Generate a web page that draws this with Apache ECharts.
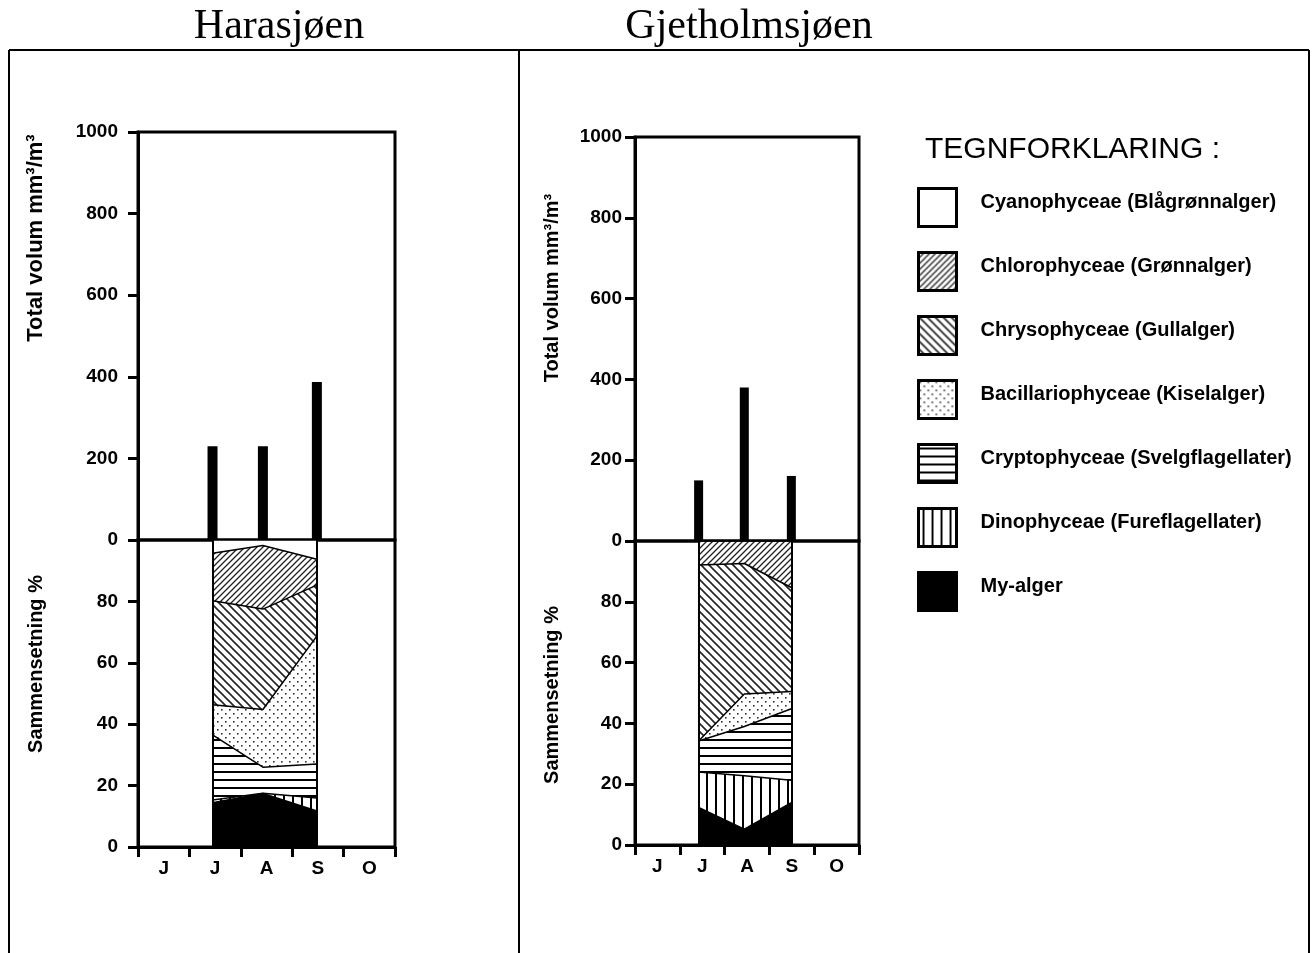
<!DOCTYPE html>
<html>
<head>
<meta charset="utf-8">
<script src="https://cdn.jsdelivr.net/npm/echarts@6/dist/echarts.min.js"></script>
<style>
  html, body { margin: 0; padding: 0; background: #fff; }
  #chart { width: 1313px; height: 953px; }
</style>
</head>
<body>
<div id="chart"></div>
<script>
// months on the x axis (June .. October)
const months = ['J', 'J', 'A', 'S', 'O']

// sampling positions, in months counted from 1 June
const sampleHara = [1.45, 2.43, 3.48]
const sampleGjet = [1.42, 2.44, 3.49]

// total volume mm3/m3
const volumHara = [230, 230, 387]
const volumGjet = [150, 380, 161]

// legend names, top to bottom as in the legend
const groupNames = [
  'Cyanophyceae (Blågrønnalger)',
  'Chlorophyceae (Grønnalger)',
  'Chrysophyceae (Gullalger)',
  'Bacillariophyceae (Kiselalger)',
  'Cryptophyceae (Svelgflagellater)',
  'Dinophyceae (Fureflagellater)',
  'My-alger'
]

// composition in %, Harasjøen
const myHara = [14.4, 17.4, 11.7]
const dinoHara = [0.9, 0.1, 4.3]
const cryptoHara = [21.2, 8.5, 11.0]
const bacilHara = [9.8, 18.8, 41.7]
const chrysoHara = [33.9, 32.7, 16.6]
const chloroHara = [15.5, 20.7, 8.4]
const cyanoHara = [4.3, 1.8, 6.3]

// composition in %, Gjetholmsjøen
const myGjet = [12.4, 5.2, 13.9]
const dinoGjet = [11.6, 17.6, 7.4]
const cryptoGjet = [10.2, 16.2, 23.5]
const bacilGjet = [0, 10.7, 5.7]
const chrysoGjet = [57.9, 42.9, 34.2]
const chloroGjet = [7.9, 7.4, 15.3]
const cyanoGjet = [0, 0, 0]

// --- fill patterns ---
function makeCanvas(w, h) {
  let c = document.createElement('canvas')
  c.width = w
  c.height = h
  let ctx = c.getContext('2d')
  ctx.fillStyle = '#fff'
  ctx.fillRect(0, 0, w, h)
  return [c, ctx]
}

function diagonal(size, forward, lw) {
  let [c, ctx] = makeCanvas(size, size)
  ctx.strokeStyle = '#222'
  ctx.lineWidth = lw
  ctx.beginPath()
  if (forward) {
    ctx.moveTo(0, size); ctx.lineTo(size, 0)
    ctx.moveTo(-2, 2); ctx.lineTo(2, -2)
    ctx.moveTo(size - 2, size + 2); ctx.lineTo(size + 2, size - 2)
  } else {
    ctx.moveTo(0, 0); ctx.lineTo(size, size)
    ctx.moveTo(-2, size - 2); ctx.lineTo(2, size + 2)
    ctx.moveTo(size - 2, -2); ctx.lineTo(size + 2, 2)
  }
  ctx.stroke()
  return { image: c, repeat: 'repeat' }
}

function dots() {
  let [c, ctx] = makeCanvas(8, 8)
  ctx.fillStyle = '#333'
  ctx.fillRect(1, 1, 1.6, 1.6)
  ctx.fillRect(5, 5, 1.6, 1.6)
  return { image: c, repeat: 'repeat' }
}

function stripes(horizontal) {
  let [c, ctx] = horizontal ? makeCanvas(4, 8) : makeCanvas(9, 4)
  ctx.fillStyle = '#000'
  if (horizontal) ctx.fillRect(0, 3, 4, 2)
  else ctx.fillRect(4, 0, 2, 4)
  return { image: c, repeat: 'repeat' }
}

const fills = {
  'Cyanophyceae (Blågrønnalger)': '#ffffff',
  'Chlorophyceae (Grønnalger)': diagonal(6, true, 1.3),
  'Chrysophyceae (Gullalger)': diagonal(8, false, 1.6),
  'Bacillariophyceae (Kiselalger)': dots(),
  'Cryptophyceae (Svelgflagellater)': stripes(true),
  'Dinophyceae (Fureflagellater)': stripes(false),
  'My-alger': '#000000'
}

const font = 'Liberation Sans'

// layers are drawn top group first, each area filled down to 0 and covered by the next one
function layerSeries(xs, parts, xIdx, yIdx) {
  // parts are bottom-up; running totals give each layer's upper edge
  let acc = xs.map(() => 0)
  const tops = parts.map(p => (acc = acc.map((a, k) => a + p[k])))
  const namesUp = groupNames.slice().reverse()
  let list = []
  for (let i = parts.length - 1; i >= 0; i--) {
    const name = namesUp[i]
    list.push({
      name: name,
      type: 'line',
      xAxisIndex: xIdx,
      yAxisIndex: yIdx,
      symbol: 'none',
      silent: true,
      data: xs.map((x, k) => [x, tops[i][k]]),
      lineStyle: { color: '#000', width: 1.5 },
      itemStyle: { color: fills[name] },
      areaStyle: { color: fills[name], opacity: 1, origin: 'start' }
    })
  }
  list[list.length - 1].markLine = {
    silent: true,
    symbol: 'none',
    label: { show: false },
    lineStyle: { color: '#000', width: 2, type: 'solid' },
    data: [{ xAxis: xs[0] }, { xAxis: xs[xs.length - 1] }]
  }
  return list
}

function volAxis(grid, margin) {
  return {
    type: 'value', gridIndex: grid, min: 0, max: 1000, interval: 200,
    axisLine: { show: true, lineStyle: { color: '#000', width: 3 } },
    axisTick: { show: true, length: 10, lineStyle: { color: '#000', width: 3 } },
    axisLabel: {
      margin: margin, color: '#000', fontFamily: font, fontWeight: 'bold', fontSize: 19,
      padding: [0, 0, 10, 0], formatter: v => String(v)
    },
    splitLine: { show: false }
  }
}

function pctAxis(grid, margin) {
  return {
    type: 'value', gridIndex: grid, min: 0, max: 100, interval: 20,
    axisLine: { show: true, lineStyle: { color: '#000', width: 3 } },
    axisTick: { show: true, length: 10, lineStyle: { color: '#000', width: 3 } },
    axisLabel: {
      margin: margin, color: '#000', fontFamily: font, fontWeight: 'bold', fontSize: 19,
      padding: [0, 0, 8, 0], showMaxLabel: false
    },
    splitLine: { show: false }
  }
}

function monthAxis(grid) {
  return {
    type: 'category', gridIndex: grid, data: months, boundaryGap: true,
    axisLine: { lineStyle: { color: '#000', width: 3 } },
    axisTick: { show: true, length: 10, lineStyle: { color: '#000', width: 3 } },
    axisLabel: { margin: 12, color: '#000', fontFamily: font, fontWeight: 'bold', fontSize: 19 }
  }
}

function hiddenX(grid) {
  return { type: 'value', gridIndex: grid, min: 0, max: 5, show: false }
}

function vText(text, x, y, size) {
  return {
    type: 'text', x: x, y: y, rotation: Math.PI / 2,
    style: {
      text: text, fill: '#000', fontFamily: font, fontWeight: 'bold', fontSize: size,
      align: 'center', verticalAlign: 'middle'
    }
  }
}

function frameLine(x1, y1, x2, y2) {
  return { type: 'line', shape: { x1, y1, x2, y2 }, style: { stroke: '#000', lineWidth: 2 }, z: 0 }
}

let myChart = echarts.init(document.getElementById('chart'))
const gridStyle = { show: true, borderColor: '#000', borderWidth: 3, backgroundColor: 'transparent' }

const partsHara = [myHara, dinoHara, cryptoHara, bacilHara, chrysoHara, chloroHara, cyanoHara]
const partsGjet = [myGjet, dinoGjet, cryptoGjet, bacilGjet, chrysoGjet, chloroGjet, cyanoGjet]

let option = {
  animation: false,
  backgroundColor: '#fff',
  title: [
    { text: 'Harasjøen', left: 274, top: 1, textAlign: 'center',
      textStyle: { fontFamily: 'Liberation Serif', fontWeight: 'normal', fontSize: 42, color: '#000' } },
    { text: 'Gjetholmsjøen', left: 744, top: 1, textAlign: 'center',
      textStyle: { fontFamily: 'Liberation Serif', fontWeight: 'normal', fontSize: 42, color: '#000' } },
    { text: 'TEGNFORKLARING :', left: 920, top: 130,
      textStyle: { fontFamily: font, fontWeight: 'normal', fontSize: 30, color: '#000' } }
  ],
  legend: {
    orient: 'vertical',
    left: 912,
    top: 182,
    icon: 'rect',
    itemWidth: 38,
    itemHeight: 38,
    itemGap: 23,
    selectedMode: false,
    itemStyle: { borderColor: '#000', borderWidth: 3 },
    formatter: name => '{t|' + name + '}',
    textStyle: {
      color: '#000', fontFamily: font, fontWeight: 'bold', fontSize: 20,
      rich: { t: { color: '#000', fontFamily: font, fontWeight: 'bold', fontSize: 20, padding: [0, 0, 10, 19] } }
    },
    data: groupNames.map(n => ({ name: n, itemStyle: { color: fills[n] } }))
  },
  grid: [
    Object.assign({ left: 138, top: 132, width: 257, height: 408 }, gridStyle),
    Object.assign({ left: 138, top: 540, width: 257, height: 307 }, gridStyle),
    Object.assign({ left: 635, top: 137, width: 224, height: 404 }, gridStyle),
    Object.assign({ left: 635, top: 541, width: 224, height: 304 }, gridStyle)
  ],
  xAxis: [
    hiddenX(0),
    monthAxis(1),
    hiddenX(1),
    hiddenX(2),
    monthAxis(3),
    hiddenX(3)
  ],
  yAxis: [
    volAxis(0, 20),
    pctAxis(1, 20),
    volAxis(2, 13),
    pctAxis(3, 13)
  ],
  graphic: [
    frameLine(9, 50, 1309, 50),
    frameLine(9, 50, 9, 953),
    frameLine(1309, 50, 1309, 953),
    frameLine(519, 50, 519, 953),
    vText('Total volum mm³/m³', 36, 238, 22),
    vText('Sammensetning %', 36, 664, 20),
    vText('Total volum mm³/m³', 552, 288, 20),
    vText('Sammensetning %', 552, 695, 20)
  ],
  series: [
    {
      type: 'bar', xAxisIndex: 0, yAxisIndex: 0, barWidth: 10, silent: true,
      itemStyle: { color: '#000' },
      data: sampleHara.map((x, k) => [x, volumHara[k]])
    },
    {
      type: 'bar', xAxisIndex: 3, yAxisIndex: 2, barWidth: 9, silent: true,
      itemStyle: { color: '#000' },
      data: sampleGjet.map((x, k) => [x, volumGjet[k]])
    }
  ]
    .concat(layerSeries(sampleHara, partsHara, 2, 1))
    .concat(layerSeries(sampleGjet, partsGjet, 5, 3))
}

myChart.setOption(option)
</script>
</body>
</html>
